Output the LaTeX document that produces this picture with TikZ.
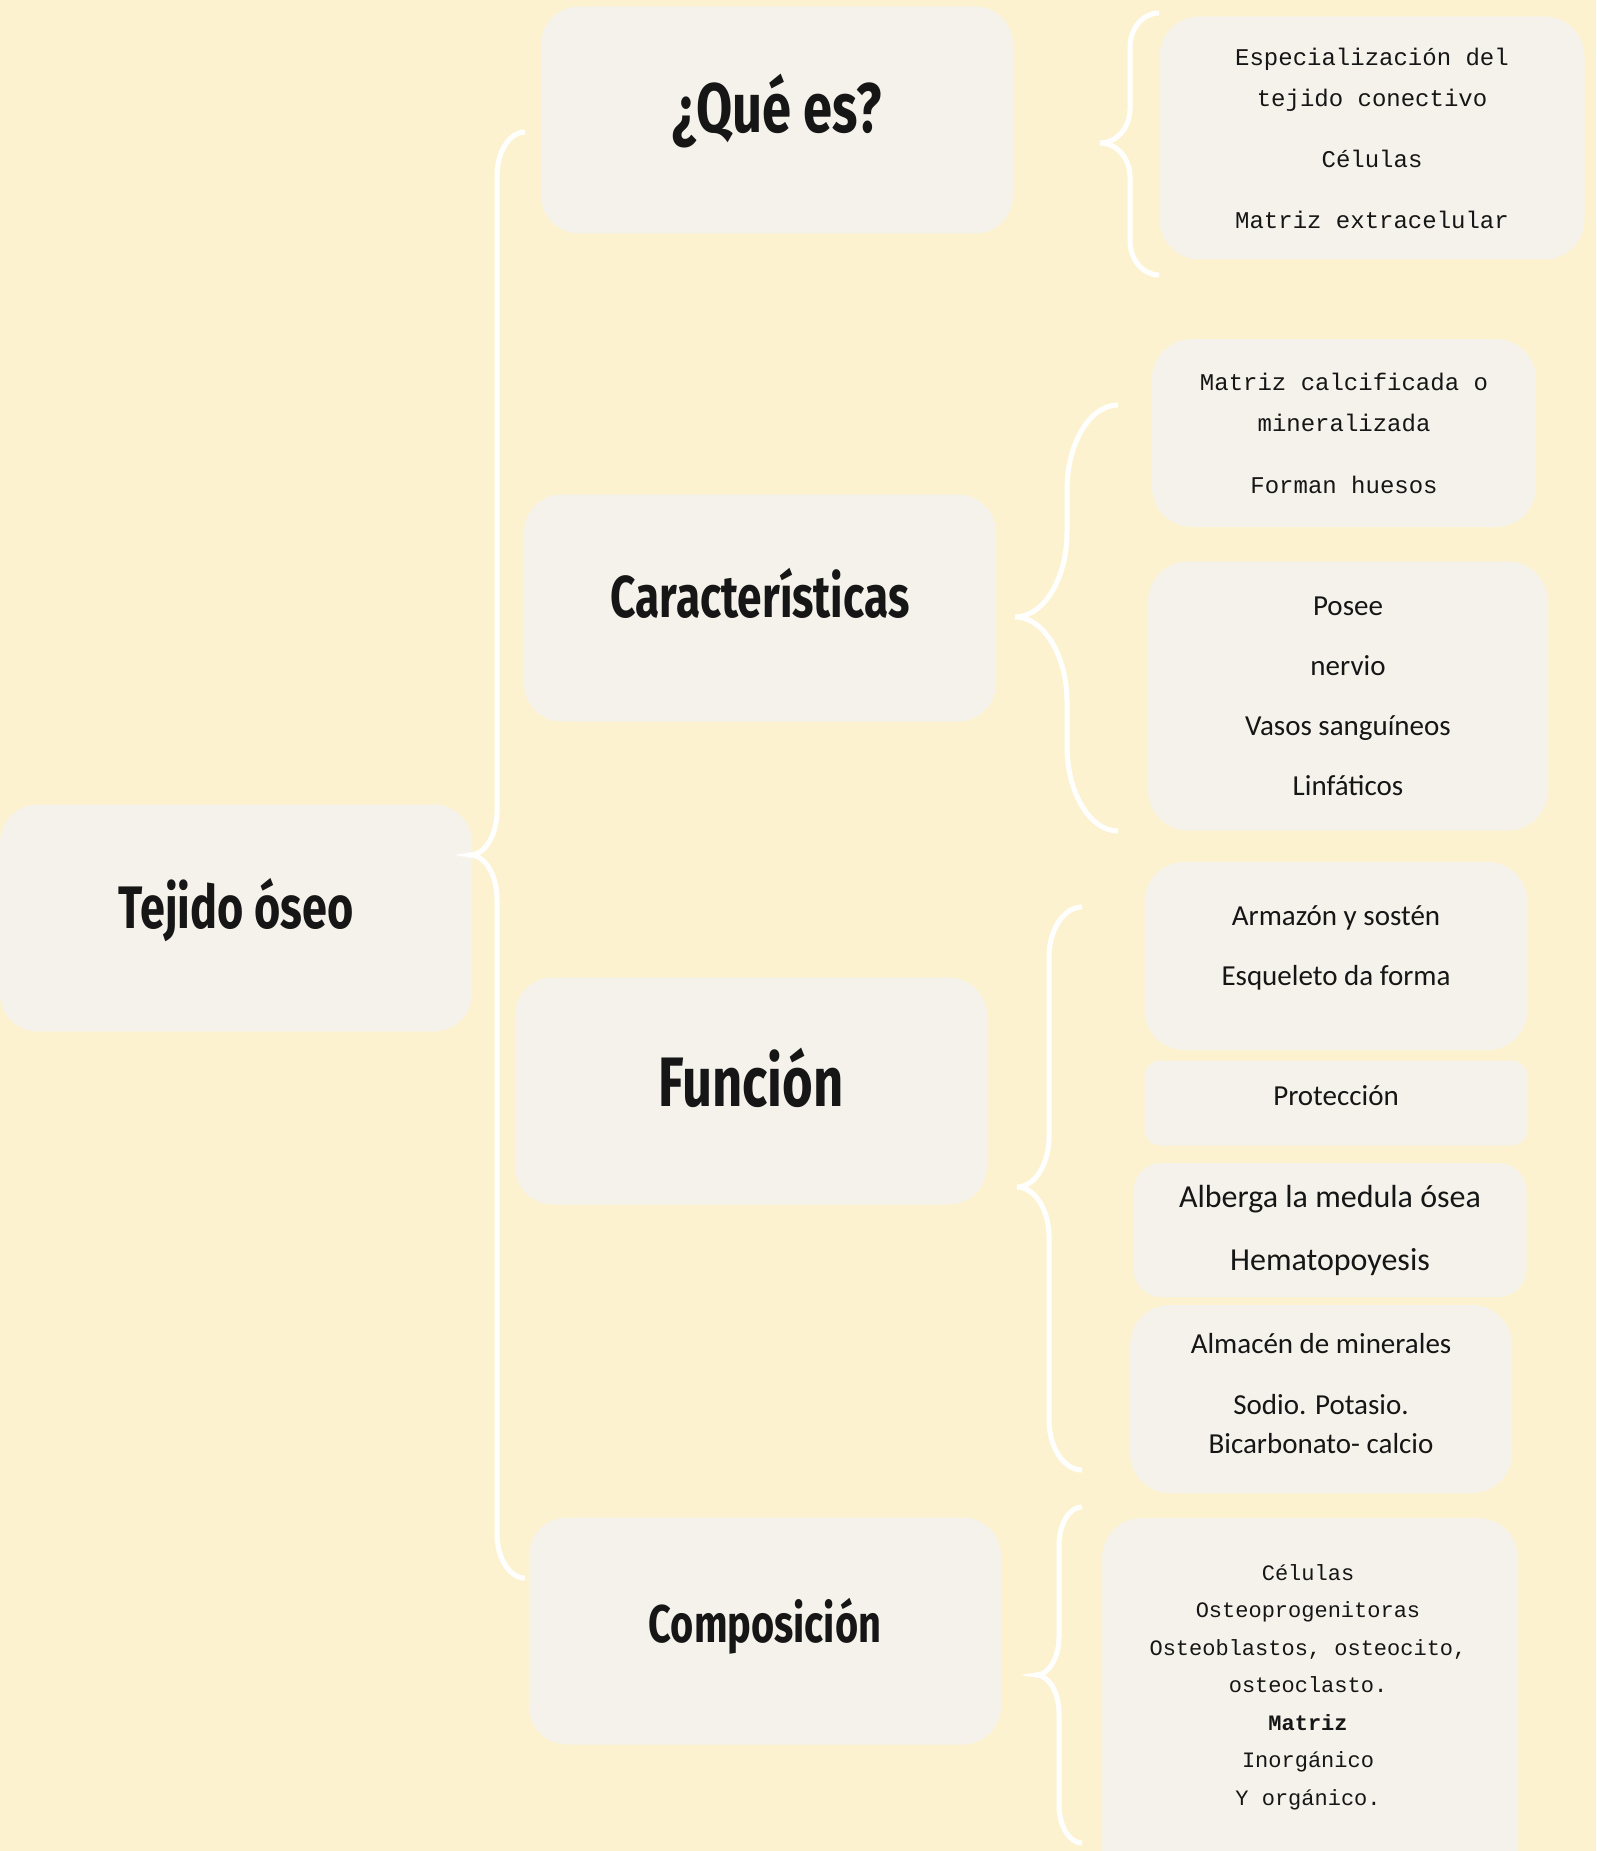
\documentclass[tikz,border=0pt]{standalone}
\usepackage{fontspec}
\setmainfont{Carlito}
\newfontfamily\headfont{Fira Sans}
\newfontfamily\notefont{Liberation Mono}

\definecolor{cream}{HTML}{FDF2D0}
\definecolor{boxgray}{HTML}{F4F2EA}
\definecolor{ink}{HTML}{161616}

% title text: bold, narrowed
\newcommand{\headtext}[2]{\scalebox{0.75}[1]{\headfont\bfseries\fontsize{#1}{#1}\selectfont #2}}
% curly bracket: end x, stem x, tip x, top y, tip y, bottom y, bend
\newcommand{\curlybrace}[7]{%
  \draw[brace] (#1,#4) .. controls (#1-0.55*#1+0.55*#2,#4) and (#2,#4+0.45*#7) .. (#2,#4+#7)
    -- (#2,#5-#7) .. controls (#2,#5-0.45*#7) and (#3+0.55*#2-0.55*#3,#5) .. (#3,#5)
    .. controls (#3+0.55*#2-0.55*#3,#5) and (#2,#5+0.45*#7) .. (#2,#5+#7)
    -- (#2,#6-#7) .. controls (#2,#6-0.45*#7) and (#1-0.55*#1+0.55*#2,#6) .. (#1,#6);}

\tikzset{
  topic/.style={fill=boxgray, rounded corners=38pt, minimum width=472pt, minimum height=227pt,
    inner sep=0pt, align=center, text=ink, text depth=0pt},
  leaf/.style={fill=boxgray, rounded corners=40pt, inner sep=0pt, align=center, text=ink,
    font=\fontsize{29}{60}\selectfont},
  mono/.style={leaf, font=\notefont\fontsize{24}{41}\selectfont},
  brace/.style={draw=white, line width=5pt}
}

\begin{document}
\begin{tikzpicture}[x=1pt, y=-1pt]
  \useasboundingbox (0,0) rectangle (1596,1851);
  \fill[cream] (0,0) rectangle (1596,1851);

  % main topics
  \node[topic, text height=20pt] (tejido) at (236,918) {\headtext{60}{Tejido óseo}};
  \node[topic, text height=26pt] (que) at (777,120) {\headtext{70}{¿Qué es?}};
  \node[topic, text height=18pt] (carac) at (760,608) {\headtext{59}{Características}};
  \node[topic, text height=30pt] (func) at (751,1091) {\headtext{70}{Función}};
  \node[topic, text height=22pt] (compo) at (765,1631) {\headtext{53}{Composición}};

  % details
  \node[mono, minimum width=425pt, minimum height=243pt] (que-a) at (1372,138)
    {Especialización del\\tejido conectivo\\[20pt]Células\\[20pt]Matriz extracelular};
  \node[mono, minimum width=384pt, minimum height=188pt] (carac-a) at (1344,433)
    {Matriz calcificada o\\mineralizada\\[21pt]Forman huesos};
  \node[leaf, minimum width=400pt, minimum height=269pt] (carac-b) at (1348,696)
    {Posee\\nervio\\Vasos sanguíneos\\Linfáticos};
  \node[leaf, minimum width=383pt, minimum height=188pt] (func-a) at (1336,956) {};
  \node[leaf, fill=none] (func-at) at (1336,948) {Armazón y sostén\\Esqueleto da forma};
  \node[leaf, rounded corners=16pt, minimum width=383pt, minimum height=85pt,
    text height=4pt, text depth=0pt] (func-b) at (1336,1103) {Protección};
  \node[leaf, rounded corners=28pt, minimum width=393pt, minimum height=134pt,
    font=\fontsize{32}{63}\selectfont] (func-c) at (1330,1230)
    {Alberga la medula ósea\\Hematopoyesis};
  \node[leaf, minimum width=382pt, minimum height=188pt] (func-d) at (1321,1399) {};
  \node[leaf, fill=none, font=\fontsize{29}{39}\selectfont] (func-dt) at (1321,1394)
    {Almacén de minerales\\[22pt]Sodio. Potasio.\\Bicarbonato- calcio};
  \node[leaf, minimum width=416pt, minimum height=372pt] (compo-a) at (1310,1704) {};
  \node[mono, fill=none, font=\notefont\fontsize{22}{37.5}\selectfont] (compo-at) at (1308,1687)
    {Células\\Osteoprogenitoras\\Osteoblastos, osteocito,\\osteoclasto.\\\textbf{Matriz}\\Inorgánico\\Y orgánico.};

  % brackets
  \curlybrace{525}{497}{470}{132}{855}{1578}{44}
  \curlybrace{1159}{1130}{1100}{13}{143}{275}{34}
  \curlybrace{1118}{1067}{1015}{405}{617}{831}{85}
  \curlybrace{1082}{1049}{1017}{907}{1187}{1470}{50}
  \curlybrace{1082}{1059}{1036}{1507}{1675}{1843}{38}
\end{tikzpicture}
\end{document}
